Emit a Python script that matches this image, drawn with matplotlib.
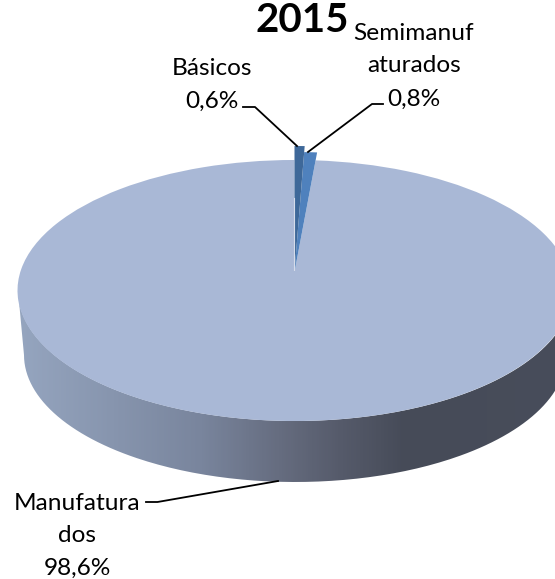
import numpy as np
import matplotlib
matplotlib.use('Agg')
import matplotlib.pyplot as plt
from matplotlib.path import Path
from matplotlib.patches import PathPatch
from matplotlib.colors import LinearSegmentedColormap

plt.rcParams['font.family'] = ['Lato', 'DejaVu Sans']

categorias = ['Básicos', 'Semimanufaturados', 'Manufaturados']
valores = [0.6, 0.8, 98.6]
rotulos = ['Básicos\n0,6%', 'Semimanuf\naturados\n0,8%', 'Manufatura\ndos\n98,6%']
titulo = '2015'

cores = ['#3e6899', '#4f81bd', '#a9b8d6']
raios = [1.145, 1.082, 1.0]

# tudo em pixels da imagem
fig = plt.figure(figsize=(5.55, 5.79), dpi=100)
ax = fig.add_axes([0, 0, 1, 1])

# perspectiva da tampa: centro em (294,272), topo em 160, base em 421
K = 0.1418
A = 127.9
B = 274.2
X0, Y0 = 294.5, 272


def proj(v):
    d = 1 + K * v[:, 1]
    return np.column_stack([X0 + B * v[:, 0] / d, Y0 - A * v[:, 1] / d])


wedges, _ = ax.pie(valores, startangle=90, counterclock=False)

# lateral do disco, com o degrade
t = np.linspace(0, np.pi, 200)
xt = 295 + 277 * np.cos(t)
yt = 290.5 + 130.5 * np.sin(t)
xb = 295 + 271 * np.cos(t[::-1])
yb = 355 + 127 * np.sin(t[::-1])
lado = np.vstack([np.column_stack([xt, yt]), np.column_stack([xb, yb])])
lado = np.vstack([lado, lado[0]])
cmap = LinearSegmentedColormap.from_list('lado', [
    (0.0, '#95a5bf'), (0.17, '#8795ae'), (0.33, '#79859d'), (0.47, '#666d80'),
    (0.58, '#565b6b'), (0.70, '#464b58'), (1.0, '#484d5b')])
img = ax.imshow(np.linspace(0, 1, 300)[None, :], cmap=cmap, extent=[18, 572, 490, 280],
                aspect='auto', zorder=1)
clip = PathPatch(Path(lado), transform=ax.transData, facecolor='none', edgecolor='none')
ax.add_patch(clip)
img.set_clip_path(clip)

# fatias com o raio de cada uma, a maior por baixo
for w, cor, r, z in zip(wedges, cores, raios, [4, 3, 2]):
    w.set_radius(r)
    p = w.get_path()
    w.remove()
    ax.add_patch(PathPatch(Path(proj(p.vertices), p.codes), facecolor=cor, edgecolor='none', zorder=z))

# reflexo claro junto ao vertice
ax.plot([294.3, 294.3], [198, 270], color='#d5dcea', lw=0.8, zorder=5)

# linhas de chamada
ax.plot([243, 255, 297], [107, 107, 146], color='black', lw=1.3, zorder=6)
ax.plot([383, 372, 308], [104, 104, 152], color='black', lw=1.3, zorder=6)
ax.plot([146, 157.5, 278], [502, 502, 481], color='black', lw=1.3, zorder=6)

fs = 17.6
ax.text(212, 85, rotulos[0], ha='center', va='center', fontsize=fs, linespacing=1.7, color='black')
ax.text(414, 66, rotulos[1], ha='center', va='center', fontsize=fs, linespacing=1.7, color='black')
ax.text(77, 536, rotulos[2], ha='center', va='center', fontsize=fs, linespacing=1.65, color='black')
ax.text(302, 20, titulo, ha='center', va='center', fontsize=29, fontweight='bold', color='black')

ax.set_xlim(0, 555)
ax.set_ylim(579, 0)
ax.set_aspect('auto')
ax.axis('off')

fig.savefig('out.png', dpi=100, facecolor='white')
